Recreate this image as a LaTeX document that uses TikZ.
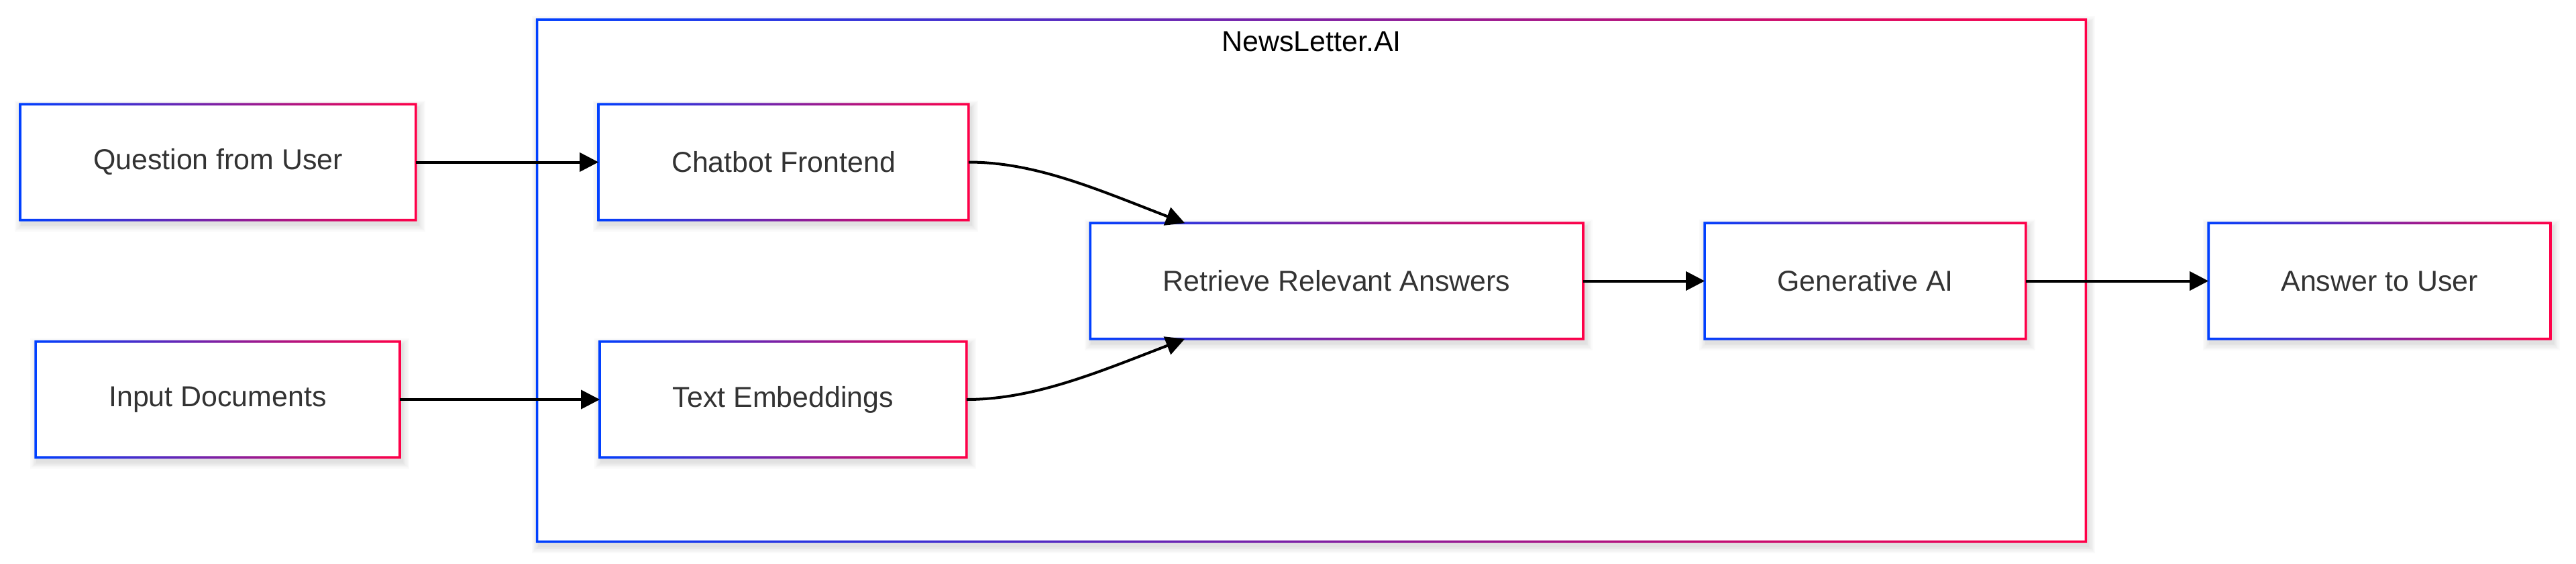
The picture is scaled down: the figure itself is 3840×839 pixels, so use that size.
\documentclass[tikz,border=0pt]{standalone}
\usepackage{fontspec}
\setmainfont{Liberation Sans}
\usetikzlibrary{arrows.meta,backgrounds}
\definecolor{gblue}{RGB}{0,64,255}
\definecolor{gred}{RGB}{255,0,72}
\definecolor{txt}{RGB}{51,51,51}
\newcommand\gdeco[1]{%
  \foreach \i in {1,...,6}{%
    \fill[black,opacity=0.02] ([shift={({-\i*1.8+3},{-\i*1.8+6})}]#1.north west) rectangle ([shift={({\i*1.8+3},{\i*1.8+6})}]#1.south east);
  }
  \fill[white] (#1.north west) rectangle (#1.south east);
  \shade[left color=gblue,right color=gred,even odd rule]
    ([shift={(-1.8,-1.8)}]#1.north west) rectangle ([shift={(1.8,1.8)}]#1.south east)
    ([shift={(1.8,1.8)}]#1.north west) rectangle ([shift={(-1.8,-1.8)}]#1.south east);
}
\tikzset{
  box/.style={inner sep=0pt, minimum height=1.71cm, text=txt, font=\fontsize{12.2pt}{14pt}\selectfont},
  arr/.style={draw=black, line width=0.04cm, -{Triangle[length=0.28cm,width=0.28cm]}}
}
\begin{document}
\begin{tikzpicture}[x=0.01cm,y=-0.01cm]
\useasboundingbox (0,0) rectangle (3840,839);
\node[box, minimum width=23.06cm, minimum height=7.76cm] (cl) at (1955,418) {};
\node[inner sep=0pt, text=black, font=\fontsize{12.2pt}{14pt}\selectfont] (title) at (1955,62) {NewsLetter.AI};
\node[box, minimum width=5.88cm] (q) at (325,241.5) {Question from User};
\node[box, minimum width=5.41cm] (inp) at (324.5,595) {Input Documents};
\node[box, minimum width=5.50cm] (chat) at (1168,241.5) {Chatbot Frontend};
\node[box, minimum width=5.45cm] (emb) at (1167.5,595) {Text Embeddings};
\node[box, minimum width=7.33cm] (ret) at (1992.5,418.5) {Retrieve Relevant Answers};
\node[box, minimum width=4.77cm] (gen) at (2780.5,418.5) {Generative AI};
\node[box, minimum width=5.08cm] (ans) at (3547,418.5) {Answer to User};
\begin{scope}[on background layer]
\gdeco{cl}
\gdeco{q}
\gdeco{inp}
\gdeco{chat}
\gdeco{emb}
\gdeco{ret}
\gdeco{gen}
\gdeco{ans}
\end{scope}
\draw[arr] (q.east) -- (chat.west);
\draw[arr] (inp.east) -- (emb.west);
\draw[arr] (chat.east) .. controls +(100,0) and +(-130,-50) .. ([shift={(141,0)}]ret.north west);
\draw[arr] (emb.east) .. controls +(100,0) and +(-130,50) .. ([shift={(141,0)}]ret.south west);
\draw[arr] (ret.east) -- (gen.west);
\draw[arr] (gen.east) -- (ans.west);
\end{tikzpicture}
\end{document}
